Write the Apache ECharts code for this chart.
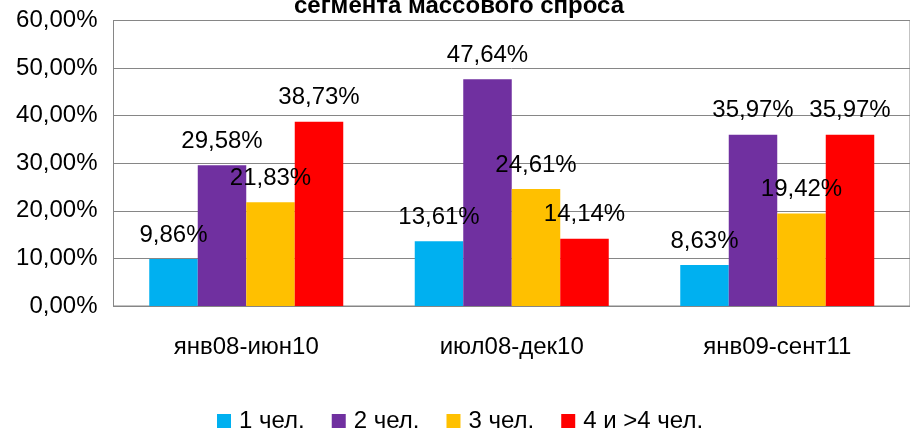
<!DOCTYPE html>
<html>
<head>
<meta charset="utf-8">
<script src="https://cdn.jsdelivr.net/npm/echarts@6/dist/echarts.min.js"></script>
<style>
  html, body { margin: 0; padding: 0; background: #fff; }
  #chart { width: 910px; height: 434px; }
</style>
</head>
<body>
<div id="chart"></div>
<script>
// данные диаграммы
var categories = ['янв08-июн10', 'июл08-дек10', 'янв09-сент11'];
var seriesNames = ['1 чел.', '2 чел.', '3 чел.', '4 и >4 чел.'];
var data1 = [9.86, 13.61, 8.63];
var data2 = [29.58, 47.64, 35.97];
var data3 = [21.83, 24.61, 19.42];
var data4 = [38.73, 14.14, 35.97];
var colors = ['#00B0F0', '#7030A0', '#FFC000', '#FF0000'];
var titleText = 'сегмента массового спроса';

var fontName = '"Liberation Sans", Arial, sans-serif';

function pct(v) {
  return v.toFixed(2).replace('.', ',') + '%';
}

var chart = echarts.init(document.getElementById('chart'));

var allData = [data1, data2, data3, data4];
var series = [];
for (var i = 0; i < allData.length; i++) {
  series.push({
    name: seriesNames[i],
    type: 'bar',
    data: allData[i],
    barWidth: 48.5,
    barGap: '0%',
    itemStyle: { color: colors[i] },
    label: {
      show: true,
      position: 'top',
      distance: 12,
      color: '#000',
      fontSize: 24,
      fontFamily: fontName,
      formatter: function (p) { return pct(p.value); }
    }
  });
}

var option = {
  animation: false,
  // заголовок обрезан сверху, поэтому ставим его графикой
  graphic: [{
    type: 'text',
    x: 459,
    y: -6,
    z: 10,
    style: {
      text: titleText,
      align: 'center',
      verticalAlign: 'top',
      fill: '#000',
      font: 'bold 24px ' + fontName
    }
  }],
  legend: {
    data: seriesNames,
    left: 217,
    top: 409,
    padding: 0,
    icon: 'rect',
    itemWidth: 14,
    itemHeight: 14,
    itemGap: 27,
    textStyle: { fontSize: 24, color: '#000', fontFamily: fontName, padding: [0, 0, 0, 3] }
  },
  grid: {
    left: 113.5,
    right: -1,
    top: 20.5,
    bottom: 128,
    show: true,
    borderColor: '#868686',
    borderWidth: 1
  },
  xAxis: {
    type: 'category',
    data: categories,
    axisTick: { show: false },
    axisLine: { lineStyle: { color: '#868686' } },
    axisLabel: { margin: 29, fontSize: 24, color: '#000', fontFamily: fontName }
  },
  yAxis: {
    type: 'value',
    min: 0,
    max: 60,
    interval: 10,
    axisLine: { show: true, lineStyle: { color: '#868686' } },
    axisTick: { show: false },
    splitLine: { lineStyle: { color: '#868686' } },
    axisLabel: {
      margin: 16,
      fontSize: 24,
      color: '#000',
      fontFamily: fontName,
      formatter: function (v) { return pct(v); }
    }
  },
  series: series
};

chart.setOption(option);
</script>
</body>
</html>
